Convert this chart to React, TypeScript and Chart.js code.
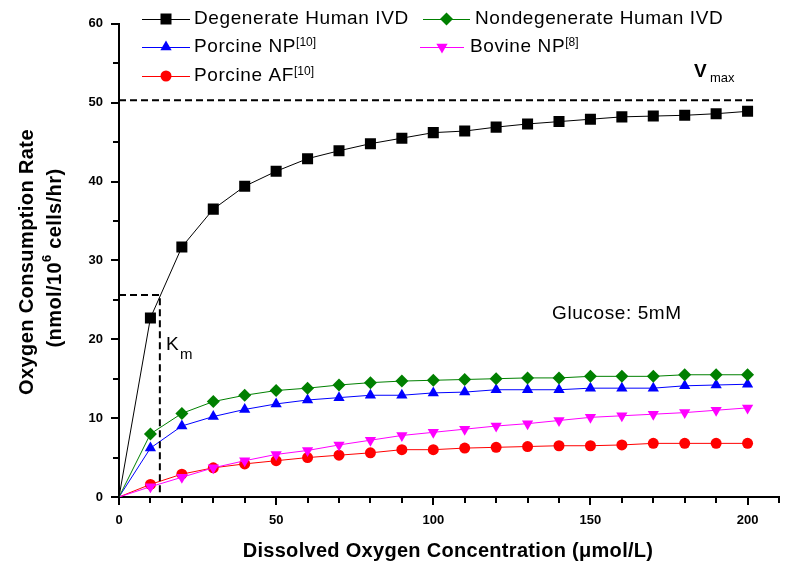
import React, { useEffect, useRef } from 'react';
import { Chart, registerables } from 'chart.js';

Chart.register(...registerables);

// ---------- data ----------
const oxygenConcentration = [0, 10, 20, 30, 40, 50, 60, 70, 80, 90, 100, 110, 120, 130, 140, 150, 160, 170, 180, 190, 200];
const degenerateHumanIVD = [0, 22.7, 31.7, 36.5, 39.4, 41.3, 42.9, 43.9, 44.8, 45.5, 46.2, 46.4, 46.9, 47.3, 47.6, 47.9, 48.2, 48.3, 48.4, 48.6, 48.9];
const nondegenerateHumanIVD = [0, 8.0, 10.6, 12.1, 12.9, 13.5, 13.8, 14.2, 14.5, 14.7, 14.8, 14.9, 15.0, 15.1, 15.1, 15.3, 15.3, 15.3, 15.5, 15.5, 15.5];
const porcineNP = [0, 6.2, 9.0, 10.2, 11.1, 11.8, 12.3, 12.6, 12.9, 12.9, 13.2, 13.3, 13.6, 13.6, 13.6, 13.8, 13.8, 13.8, 14.1, 14.2, 14.3];
const bovineNP = [0, 1.3, 2.5, 3.7, 4.6, 5.4, 5.9, 6.6, 7.2, 7.8, 8.2, 8.6, 9.0, 9.3, 9.7, 10.1, 10.3, 10.5, 10.7, 11.0, 11.3];
const porcineAF = [0, 1.6, 2.9, 3.7, 4.2, 4.6, 5.0, 5.3, 5.6, 6.0, 6.0, 6.2, 6.3, 6.4, 6.5, 6.5, 6.6, 6.8, 6.8, 6.8, 6.8];

const seriesNames = ['Degenerate Human IVD', 'Nondegenerate Human IVD', 'Porcine NP', 'Bovine NP', 'Porcine AF'];
const seriesRefs = ['', '', '[10]', '[8]', '[10]'];
const seriesColors = ['#000000', '#008000', '#0000ff', '#ff00ff', '#ff0000'];

const xTickLabels = [0, 50, 100, 150, 200];
const yTickLabels = [0, 10, 20, 30, 40, 50, 60];

const VMAX = 50.3;
const VMAX_LINE_END = 203;
const KM = 13;
const KM_RATE = 25.6;

const FONT = '"Liberation Sans", Arial, sans-serif';

type Part = { text: string; font: string; dy?: number; ls?: string };

function drawParts(ctx: any, parts: Part[], x: number, y: number, align: 'left' | 'center') {
  const widths = parts.map((p) => {
    ctx.font = p.font;
    ctx.letterSpacing = p.ls || '0px';
    return ctx.measureText(p.text).width;
  });
  const total = widths.reduce((a, b) => a + b, 0);
  let cx = align === 'center' ? x - total / 2 : x;
  ctx.textAlign = 'left';
  ctx.textBaseline = 'middle';
  parts.forEach((p, i) => {
    ctx.font = p.font;
    ctx.letterSpacing = p.ls || '0px';
    ctx.fillText(p.text, cx, y + (p.dy || 0));
    cx += widths[i];
  });
  ctx.letterSpacing = '0px';
}

function drawMarker(ctx: any, style: string, x: number, y: number, color: string) {
  ctx.fillStyle = color;
  ctx.beginPath();
  if (style === 'rect') {
    ctx.rect(x - 5.5, y - 5.5, 11, 11);
  } else if (style === 'diamond') {
    ctx.moveTo(x, y - 6.5);
    ctx.lineTo(x + 6.5, y);
    ctx.lineTo(x, y + 6.5);
    ctx.lineTo(x - 6.5, y);
  } else if (style === 'up') {
    const r = 6.5;
    ctx.moveTo(x, y - r);
    ctx.lineTo(x + r * 0.866, y + r / 2);
    ctx.lineTo(x - r * 0.866, y + r / 2);
  } else if (style === 'down') {
    const r = 6.5;
    ctx.moveTo(x, y + r);
    ctx.lineTo(x + r * 0.866, y - r / 2);
    ctx.lineTo(x - r * 0.866, y - r / 2);
  } else {
    ctx.arc(x, y, 5.5, 0, Math.PI * 2);
  }
  ctx.closePath();
  ctx.fill();
}

const legendMarkers = ['rect', 'diamond', 'up', 'down', 'circle'];
// [seriesIndex, lineStart, lineEnd, textStart, rowY]
const legendLayout: [number, number, number, number, number][] = [
  [0, 142, 190, 194, 19],
  [1, 423, 470, 475, 19],
  [2, 142, 190, 194, 47],
  [3, 420, 464, 470, 47],
  [4, 142, 190, 194, 76],
];

const overlayPlugin = {
  id: 'overlay',
  afterDatasetsDraw(chart: any) {
    const { ctx } = chart;
    const x = chart.scales.x;
    const y = chart.scales.y;
    ctx.save();
    ctx.strokeStyle = '#000';
    ctx.lineWidth = 2;
    ctx.setLineDash([7, 4]);
    ctx.beginPath();
    ctx.moveTo(x.getPixelForValue(0), y.getPixelForValue(VMAX));
    ctx.lineTo(x.getPixelForValue(VMAX_LINE_END), y.getPixelForValue(VMAX));
    ctx.stroke();
    ctx.beginPath();
    ctx.moveTo(x.getPixelForValue(0), y.getPixelForValue(KM_RATE));
    ctx.lineTo(x.getPixelForValue(KM), y.getPixelForValue(KM_RATE));
    ctx.lineTo(x.getPixelForValue(KM), y.getPixelForValue(0));
    ctx.stroke();
    ctx.restore();
  },
  afterDraw(chart: any) {
    const { ctx, chartArea } = chart;
    const x = chart.scales.x;
    const y = chart.scales.y;
    ctx.save();
    // tick marks
    ctx.strokeStyle = '#000';
    ctx.lineWidth = 2;
    ctx.setLineDash([]);
    y.ticks.forEach((t: any) => {
      const py = Math.round(y.getPixelForValue(t.value));
      const len = t.value % 10 === 0 ? 8 : 6;
      ctx.beginPath();
      ctx.moveTo(chartArea.left, py);
      ctx.lineTo(chartArea.left - len, py);
      ctx.stroke();
    });
    x.ticks.forEach((t: any) => {
      const px = Math.round(x.getPixelForValue(t.value));
      const len = t.value % 50 === 0 ? 8 : 6;
      ctx.beginPath();
      ctx.moveTo(px, chartArea.bottom);
      ctx.lineTo(px, chartArea.bottom + len);
      ctx.stroke();
    });

    ctx.fillStyle = '#000';
    // x title
    drawParts(ctx, [{ text: 'Dissolved Oxygen Concentration (μmol/L)', font: `bold 20px ${FONT}`, ls: '0.3px' }], 448, 551, 'center');
    // y title
    ctx.save();
    ctx.translate(27, 262);
    ctx.rotate(-Math.PI / 2);
    drawParts(ctx, [{ text: 'Oxygen Consumption Rate', font: `bold 20px ${FONT}`, ls: '0.4px' }], 0, 0, 'center');
    ctx.restore();
    ctx.save();
    ctx.translate(55, 258);
    ctx.rotate(-Math.PI / 2);
    drawParts(
      ctx,
      [
        { text: '(nmol/10', font: `bold 20px ${FONT}`, ls: '0.4px' },
        { text: '6', font: `bold 13px ${FONT}`, dy: -8 },
        { text: ' cells/hr)', font: `bold 20px ${FONT}`, ls: '0.4px' },
      ],
      0,
      0,
      'center'
    );
    ctx.restore();

    // legend
    legendLayout.forEach(([i, l0, l1, tx, ry]) => {
      const color = seriesColors[i];
      ctx.strokeStyle = color;
      ctx.lineWidth = 1;
      ctx.beginPath();
      ctx.moveTo(l0, ry + 0.5);
      ctx.lineTo(l1, ry + 0.5);
      ctx.stroke();
      drawMarker(ctx, legendMarkers[i], (l0 + l1) / 2, ry, color);
      ctx.fillStyle = '#000';
      const parts: Part[] = [{ text: seriesNames[i], font: `19px ${FONT}`, ls: '0.6px' }];
      if (seriesRefs[i]) parts.push({ text: seriesRefs[i], font: `12px ${FONT}`, dy: -4 });
      drawParts(ctx, parts, tx, ry, 'left');
    });

    // annotations
    ctx.fillStyle = '#000';
    drawParts(ctx, [{ text: 'V', font: `bold 19px ${FONT}` }], 694, 72, 'left');
    drawParts(ctx, [{ text: 'max', font: `13px ${FONT}` }], 710, 78, 'left');
    drawParts(ctx, [{ text: 'K', font: `19px ${FONT}` }], 166, 345, 'left');
    drawParts(ctx, [{ text: 'm', font: `15px ${FONT}` }], 180, 355, 'left');
    drawParts(ctx, [{ text: 'Glucose: 5mM', font: `19px ${FONT}`, ls: '0.6px' }], 552, 314, 'left');
    ctx.restore();
  },
};

const pointStyles = ['rect', 'rectRot', 'triangle', 'triangle', 'circle'];
const pointRotations = [0, 0, 0, 180, 0];
const pointSizes = [7.8, 6.5, 6.5, 6.5, 5.5];
const seriesValues = [degenerateHumanIVD, nondegenerateHumanIVD, porcineNP, bovineNP, porcineAF];

export default function App() {
  const ref = useRef<HTMLCanvasElement>(null);
  useEffect(() => {
    const datasets = seriesValues.map((values, i) => ({
      label: seriesNames[i],
      data: oxygenConcentration.map((xv, k) => ({ x: xv, y: values[k] })),
      borderColor: seriesColors[i],
      backgroundColor: seriesColors[i],
      pointBackgroundColor: seriesColors[i],
      borderWidth: 1,
      pointBorderWidth: 0,
      pointStyle: pointStyles[i],
      pointRotation: pointRotations[i],
      pointRadius: (c: any) => (c.dataIndex === 0 ? 0 : pointSizes[i]),
      tension: 0,
    }));
    const chart = new Chart(ref.current as HTMLCanvasElement, {
      type: 'line',
      data: { datasets },
      options: {
        animation: false,
        responsive: false,
        devicePixelRatio: 1,
        events: [],
        layout: { padding: { top: 18, right: 21, left: 0, bottom: 0 } },
        plugins: { legend: { display: false }, tooltip: { enabled: false } },
        scales: {
          x: {
            type: 'linear',
            min: 0,
            max: 210,
            grid: { display: false, drawTicks: false },
            border: { display: true, color: '#000', width: 2 },
            ticks: {
              stepSize: 10,
              autoSkip: false,
              maxRotation: 0,
              minRotation: 0,
              padding: 16,
              color: '#000',
              font: { family: FONT, size: 13, weight: 'bold' },
              callback: (v: any) => (xTickLabels.includes(Number(v)) ? String(v) : ''),
            },
            afterFit: (s: any) => {
              s.height = 73;
            },
          },
          y: {
            type: 'linear',
            min: 0,
            max: 60,
            grid: { display: false, drawTicks: false },
            border: { display: true, color: '#000', width: 2 },
            ticks: {
              stepSize: 5,
              autoSkip: false,
              padding: 16,
              color: '#000',
              font: { family: FONT, size: 13, weight: 'bold' },
              callback: (v: any) => (yTickLabels.includes(Number(v)) ? String(v) : ''),
            },
            afterFit: (s: any) => {
              s.width = 119;
            },
          },
        },
      } as any,
      plugins: [overlayPlugin],
    });
    return () => chart.destroy();
  }, []);
  return (
    <div style={{ position: 'absolute', left: 0, top: 0, width: 800, height: 570, background: '#fff' }}>
      <canvas ref={ref} width={800} height={570} style={{ display: 'block' }} />
    </div>
  );
}
